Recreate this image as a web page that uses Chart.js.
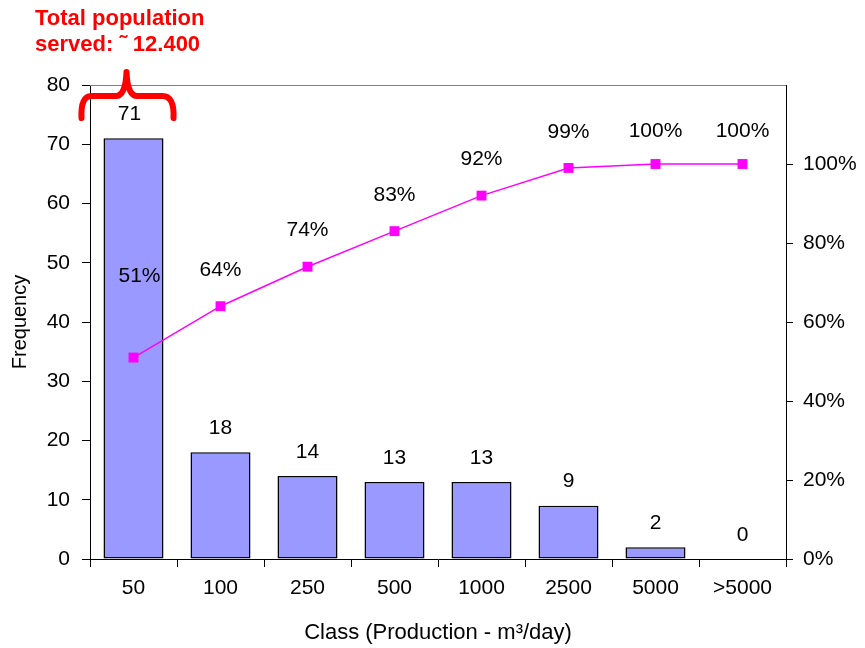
<!DOCTYPE html>
<html>
<head>
<meta charset="utf-8">
<script src="https://cdn.jsdelivr.net/npm/chart.js@4.4.1/dist/chart.umd.min.js"></script>
<style>
  body { margin: 0; background: #fff; }
  #wrap { width: 865px; height: 648px; }
</style>
</head>
<body>
<div id="wrap"><canvas id="chart" width="865" height="648"></canvas></div>
<script>
const classes = ['50', '100', '250', '500', '1000', '2500', '5000', '>5000'];
const frequency = [71, 18, 14, 13, 13, 9, 2, 0];
const cumulative = [51, 64, 74, 83, 92, 99, 100, 100];
const freqTicks = [0, 10, 20, 30, 40, 50, 60, 70, 80];
const pctTicks = [0, 20, 40, 60, 80, 100];

const FONT = 'Liberation Sans, Arial, sans-serif';
const LINE = 0;
const BARS = 1;

// value labels over the bars and the cumulative points
const valueLabels = {
  id: 'valueLabels',
  afterDatasetsDraw(chart) {
    const ctx = chart.ctx;
    ctx.save();
    ctx.fillStyle = '#000';
    ctx.font = '21px ' + FONT;
    ctx.textAlign = 'center';
    ctx.textBaseline = 'middle';
    chart.getDatasetMeta(BARS).data.forEach((bar, i) => {
      ctx.fillText(String(frequency[i]), bar.x - (i === 0 ? 4 : 0), bar.y - 24);
    });
    chart.getDatasetMeta(LINE).data.forEach((pt, i) => {
      const lift = i === 0 ? 81 : (i >= 6 ? 33 : 36);
      ctx.fillText(cumulative[i] + '%', pt.x + (i === 0 ? 6 : 0), pt.y - lift);
    });
    ctx.restore();
  }
};

// thin frame line across the top, plus the red note and brace
const extras = {
  id: 'extras',
  beforeDatasetsDraw(chart) {
    const { ctx, chartArea } = chart;
    ctx.save();
    ctx.strokeStyle = '#808080';
    ctx.lineWidth = 1;
    ctx.beginPath();
    ctx.moveTo(chartArea.left, chartArea.top + 0.5);
    ctx.lineTo(chartArea.right, chartArea.top + 0.5);
    ctx.stroke();
    ctx.restore();
  },
  afterDraw(chart) {
    const ctx = chart.ctx;
    const cx = chart.scales.x.getPixelForValue(0) - 7;
    ctx.save();
    ctx.fillStyle = '#ff0000';
    ctx.font = 'bold 22px ' + FONT;
    ctx.textAlign = 'left';
    ctx.textBaseline = 'middle';
    ctx.fillText('Total population', 35, 19);
    ctx.fillText('served: \u02dc 12.400', 35, 45);

    ctx.strokeStyle = '#ff0000';
    ctx.lineWidth = 6;
    ctx.lineCap = 'round';
    ctx.lineJoin = 'round';
    ctx.beginPath();
    ctx.moveTo(cx - 45, 118);
    ctx.quadraticCurveTo(cx - 46, 96, cx - 35, 96);
    ctx.lineTo(cx - 10, 96);
    ctx.quadraticCurveTo(cx - 1, 95, cx, 72);
    ctx.quadraticCurveTo(cx + 1, 95, cx + 10, 96);
    ctx.lineTo(cx + 36, 96);
    ctx.quadraticCurveTo(cx + 48, 96, cx + 47, 118);
    ctx.stroke();
    ctx.restore();
  }
};

new Chart(document.getElementById('chart'), {
  data: {
    labels: classes,
    datasets: [
      {
        type: 'line',
        label: 'Cumulative %',
        data: cumulative,
        yAxisID: 'y2',
        borderColor: '#ff00ff',
        borderWidth: 1.5,
        backgroundColor: '#ff00ff',
        pointStyle: 'rect',
        pointRadius: 7,
        pointBorderWidth: 0,
        tension: 0,
        order: 0
      },
      {
        type: 'bar',
        label: 'Frequency',
        data: frequency,
        yAxisID: 'y',
        backgroundColor: '#9999ff',
        borderColor: '#000',
        borderWidth: 1.5,
        borderSkipped: false,
        barPercentage: 0.69,
        categoryPercentage: 1,
        order: 1
      }
    ]
  },
  options: {
    responsive: false,
    animation: false,
    layout: { padding: { top: 85, left: 0, right: 0, bottom: 0 } },
    plugins: {
      legend: { display: false },
      tooltip: { enabled: false }
    },
    scales: {
      x: {
        grid: { display: true, offset: true, drawOnChartArea: false, color: '#000', tickLength: 8 },
        border: { display: true, color: '#000', width: 1 },
        ticks: { color: '#000', font: { family: FONT, size: 21 }, padding: 9, maxRotation: 0 },
        title: {
          display: true,
          text: 'Class (Production - m\u00b3/day)',
          color: '#000',
          font: { family: FONT, size: 22 },
          padding: { top: 0, bottom: 2 }
        },
        afterFit(scale) { scale.height = 89; }
      },
      y: {
        position: 'left',
        min: 0,
        max: 80,
        afterBuildTicks(scale) { scale.ticks = freqTicks.map(v => ({ value: v })); },
        grid: { display: true, drawOnChartArea: false, color: '#000', tickLength: 8 },
        border: { display: true, color: '#000', width: 1 },
        ticks: { color: '#000', font: { family: FONT, size: 21 }, padding: 12 },
        title: {
          display: true,
          text: 'Frequency',
          color: '#000',
          font: { family: FONT, size: 20 },
          padding: { top: 8, bottom: 0 }
        },
        afterFit(scale) { scale.width = 90; }
      },
      y2: {
        position: 'right',
        min: 0,
        max: 120,
        afterBuildTicks(scale) { scale.ticks = pctTicks.map(v => ({ value: v })); },
        grid: { display: true, drawOnChartArea: false, color: '#000', tickLength: 7 },
        border: { display: true, color: '#000', width: 1 },
        ticks: {
          color: '#000',
          font: { family: FONT, size: 21 },
          padding: 10,
          callback: v => v + '%'
        },
        afterFit(scale) { scale.width = 79; }
      }
    }
  },
  plugins: [valueLabels, extras]
});
</script>
</body>
</html>
